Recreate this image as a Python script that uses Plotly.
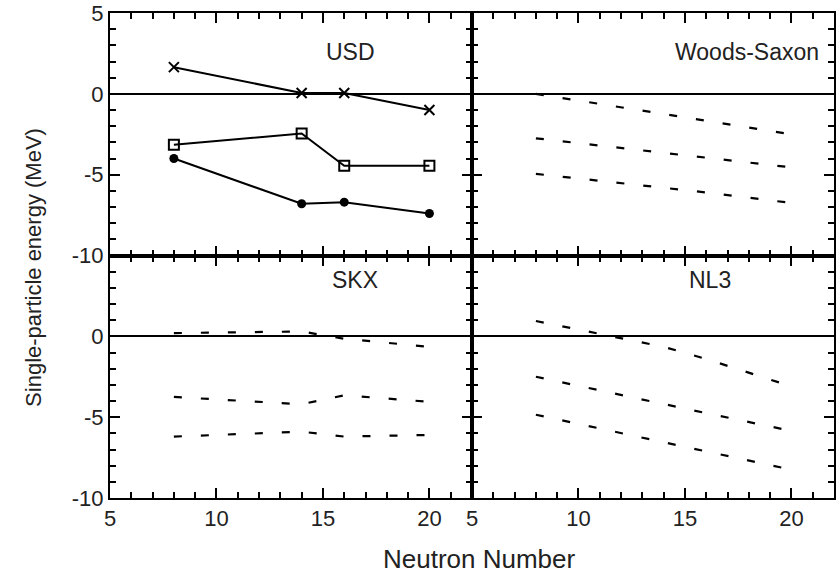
import plotly.graph_objects as go
from plotly.subplots import make_subplots

# Neutron numbers
N = [8, 14, 16, 20]
N_nl3 = [8, 11, 14, 16, 20]

# USD (symbols with solid lines)
usd_cross = [1.65, 0.05, 0.05, -1.0]
usd_square = [-3.15, -2.45, -4.45, -4.45]
usd_circle = [-4.0, -6.8, -6.7, -7.4]

# Woods-Saxon (dashed)
ws_1 = [0.0, -1.25, -1.7, -2.5]
ws_2 = [-2.75, -3.65, -3.95, -4.55]
ws_3 = [-4.95, -5.8, -6.1, -6.75]

# SKX (dashed)
skx_1 = [0.2, 0.3, -0.15, -0.65]
skx_2 = [-3.75, -4.2, -3.65, -4.05]
skx_3 = [-6.2, -5.9, -6.2, -6.1]

# NL3 (dashed)
nl3_1 = [0.95, 0.15, -0.65, -1.4, -3.1]
nl3_2 = [-2.5, -3.35, -4.2, -4.75, -5.85]
nl3_3 = [-4.85, -5.7, -6.55, -7.1, -8.25]

panel_names = ["USD", "Woods-Saxon", "SKX", "NL3"]

fig = make_subplots(rows=2, cols=2, horizontal_spacing=0, vertical_spacing=0)

solid = dict(color="black", width=2)
fig.add_trace(go.Scatter(x=N, y=usd_cross, mode="lines+markers", line=solid,
                         marker=dict(symbol="x-thin", size=10, line=dict(width=2, color="black"))), 1, 1)
fig.add_trace(go.Scatter(x=N, y=usd_square, mode="lines+markers", line=solid,
                         marker=dict(symbol="square-open", size=10, color="black", line=dict(width=2))), 1, 1)
fig.add_trace(go.Scatter(x=N, y=usd_circle, mode="lines+markers", line=solid,
                         marker=dict(symbol="circle", size=9, color="black")), 1, 1)

dash = dict(color="black", width=2.2, dash="8px,19px")
for ys in (ws_1, ws_2, ws_3):
    fig.add_trace(go.Scatter(x=N, y=ys, mode="lines", line=dash), 1, 2)
for ys in (skx_1, skx_2, skx_3):
    fig.add_trace(go.Scatter(x=N, y=ys, mode="lines", line=dash), 2, 1)
for ys in (nl3_1, nl3_2, nl3_3):
    fig.add_trace(go.Scatter(x=N_nl3, y=ys, mode="lines", line=dash), 2, 2)

fam = "Liberation Sans, Arial, sans-serif"
tick_font = dict(family=fam, size=22, color="#222")
label_font = dict(family=fam, size=23, color="#222")
title_font = dict(family=fam, size=26, color="#222")

hyphen = {"\u221210": "-10", "\u22125": "-5"}

for r in (1, 2):
    for c in (1, 2):
        fig.update_xaxes(row=r, col=c, range=[5, 22], tickmode="linear", tick0=5, dtick=5,
                         ticks="inside", ticklen=10, tickwidth=2, tickcolor="black",
                         minor=dict(ticks="inside", ticklen=6, tickwidth=2, tickcolor="black", dtick=1),
                         showline=True, linecolor="black", linewidth=2, mirror="ticks",
                         showgrid=False, zeroline=False, showticklabels=(r == 2),
                         tickfont=tick_font)
        alias = dict(hyphen)
        if r == 2:
            alias["5"] = " "
        fig.update_yaxes(row=r, col=c, range=[-10, 5], tickmode="linear", tick0=0, dtick=5,
                         labelalias=alias,
                         ticks="inside", ticklen=10, tickwidth=2, tickcolor="black",
                         minor=dict(ticks="inside", ticklen=6, tickwidth=2, tickcolor="black", dtick=1),
                         showline=True, linecolor="black", linewidth=2, mirror="ticks",
                         showgrid=False, zeroline=True, zerolinecolor="black", zerolinewidth=2,
                         showticklabels=(c == 1), tickfont=tick_font)

label_pos = [(16.3, 2.6, 1, 1), (17.9, 2.6, 1, 2), (16.5, 3.5, 2, 1), (16.2, 3.5, 2, 2)]
for name, (lx, ly, r, c) in zip(panel_names, label_pos):
    fig.add_annotation(text=name, x=lx, y=ly, row=r, col=c, showarrow=False, font=label_font)

fig.add_annotation(text="Neutron Number", xref="paper", yref="paper", x=0.51, y=-0.125,
                   showarrow=False, font=title_font, xanchor="center", yanchor="middle")
fig.add_annotation(text="Single-particle energy (MeV)", xref="paper", yref="paper",
                   x=-0.106, y=0.475, textangle=-90, showarrow=False, font=dict(title_font, size=22),
                   xanchor="center", yanchor="middle")

fig.update_layout(width=837, height=578, margin=dict(l=110, r=1, t=13, b=80),
                  plot_bgcolor="white", paper_bgcolor="white", showlegend=False,
                  font=tick_font)

fig.write_html("out.html")
